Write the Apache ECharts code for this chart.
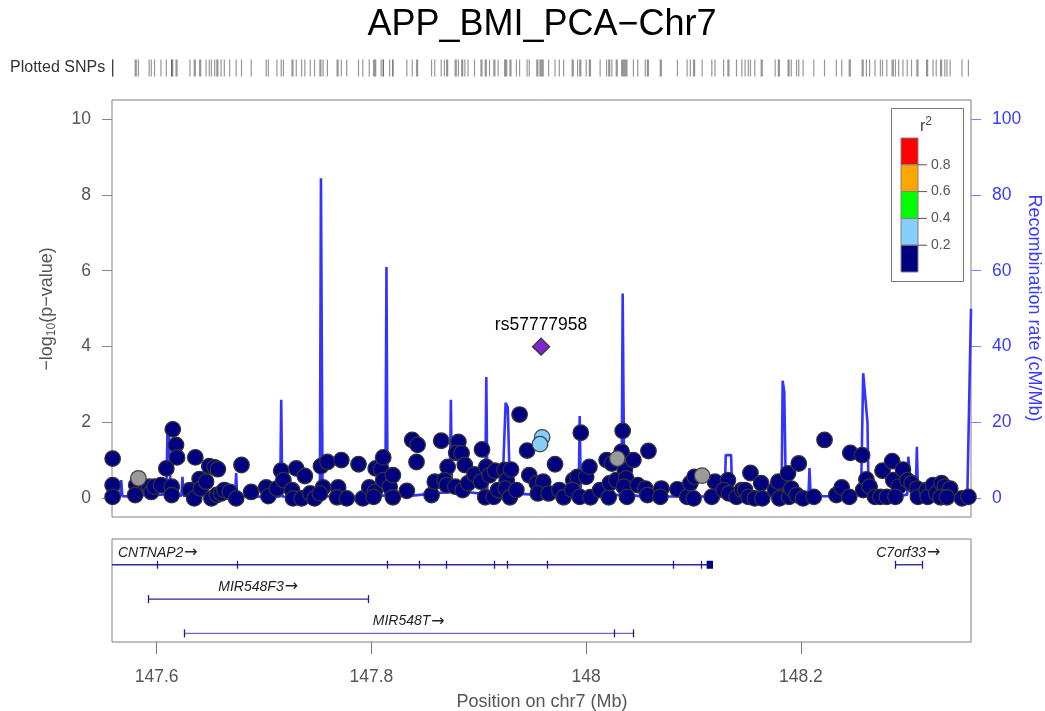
<!DOCTYPE html>
<html><head><meta charset="utf-8">
<script src="https://cdn.jsdelivr.net/npm/echarts@6/dist/echarts.min.js"></script>
<style>html,body{margin:0;padding:0;background:#fff}#c{width:1045px;height:711px}</style>
</head><body><div id="c"></div><script>
const FONT = '"Liberation Sans", Arial, Helvetica, sans-serif';
const chartTitle = 'APP_BMI_PCA\u2212Chr7';
const xMin = 147.5584, xMax = 148.3584;
const xTicks = [147.6, 147.8, 148.0, 148.2];
const pTicks = [0, 2, 4, 6, 8, 10];
const recTicks = [0, 20, 40, 60, 80, 100];

// SNPs: [position (Mb), -log10(p)]
const snpNavy = [
[147.559,1.05],[147.559,0.35],[147.559,0.04],
[147.581,0.35],[147.580,0.09],[147.593,0.31],[147.595,0.17],[147.598,0.31],[147.604,0.35],
[147.615,1.82],[147.618,1.41],[147.619,1.08],[147.609,0.79],[147.614,0.31],[147.614,0.09],
[147.631,0.22],[147.635,0.0],[147.636,1.08],[147.640,0.51],[147.641,0.26],[147.646,0.44],
[147.649,0.85],[147.654,0.82],[147.657,0.77],[147.651,0.0],[147.656,0.09],[147.660,0.13],
[147.663,0.22],[147.668,0.17],[147.674,0.0],[147.679,0.88],[147.688,0.17],[147.702,0.29],
[147.704,0.06],[147.712,0.26],[147.716,0.73],[147.718,0.48],[147.726,0.22],[147.730,0.79],
[147.727,0.0],[147.735,0.0],[147.738,0.59],[147.743,0.13],[147.747,0.0],[147.753,0.85],
[147.759,0.96],[147.755,0.29],[147.752,0.13],[147.769,0.29],[147.768,0.03],[147.772,1.01],
[147.777,0.0],[147.788,0.90],[147.792,0.0],[147.798,0.29],[147.803,0.17],[147.804,0.79],
[147.809,0.76],[147.811,1.08],[147.811,0.48],[147.817,0.31],[147.820,0.61],[147.820,0.03],[147.802,0.04],
[147.838,1.54],[147.843,1.41],[147.842,0.96],[147.833,0.20],[147.856,0.09],[147.859,0.44],
[147.865,1.52],[147.871,0.83],[147.868,0.48],[147.870,0.35],[147.878,0.31],[147.881,1.49],
[147.879,1.20],[147.884,1.19],[147.887,0.88],[147.885,0.22],[147.890,0.40],[147.896,0.63],
[147.903,1.29],[147.902,0.44],[147.907,0.83],[147.910,0.61],[147.915,0.73],[147.906,0.03],
[147.914,0.04],[147.918,0.22],[147.924,0.75],[147.926,0.48],[147.930,0.76],[147.925,0.26],
[147.929,0.03],[147.935,0.22],[147.938,2.21],[147.945,1.26],[147.947,0.61],[147.954,0.40],
[147.960,0.44],[147.971,0.90],[147.955,0.13],[147.965,0.13],[147.975,0.22],[147.979,0.03],
[147.988,0.48],[147.992,0.57],[147.995,1.73],[147.987,0.22],[147.994,0.04],[148.000,0.57],
[148.003,0.83],[148.004,0.03],[148.013,0.22],[148.019,1.01],[148.024,0.92],[148.033,1.23],
[148.034,1.78],[148.021,0.03],[148.022,0.40],[148.028,0.48],[148.036,0.75],[148.037,0.53],
[148.035,0.31],[148.038,0.04],[148.044,1.01],[148.048,0.35],[148.055,0.26],[148.058,1.25],
[148.057,0.09],[148.070,0.26],[148.069,0.04],[148.085,0.24],
[148.094,0.04],[148.097,0.40],[148.101,0.57],[148.100,0.0],[148.117,0.04],[148.120,0.44],
[148.132,0.48],[148.128,0.22],[148.133,0.13],[148.140,0.04],[148.145,0.22],[148.148,0.22],
[148.153,0.67],[148.151,0.04],[148.157,0.0],[148.163,0.40],[148.164,0.0],[148.176,0.22],
[148.179,0.44],[148.180,0.0],[148.188,0.66],[148.189,0.04],[148.191,0.26],[148.198,0.92],
[148.196,0.09],[148.202,0.0],[148.212,0.04],[148.222,1.54],[148.233,0.09],[148.238,0.29],
[148.246,1.20],[148.245,0.04],[148.257,1.14],[148.258,0.22],[148.261,0.50],[148.264,0.31],
[148.269,0.04],[148.276,0.73],[148.274,0.04],[148.280,0.04],[148.285,0.98],[148.286,0.48],
[148.291,0.31],[148.288,0.04],[148.295,0.76],[148.299,0.48],[148.303,0.40],[148.308,0.26],
[148.309,0.04],[148.317,0.22],[148.318,0.04],[148.323,0.35],[148.326,0.13],[148.331,0.40],
[148.334,0.31],[148.339,0.26],[148.330,0.03],[148.336,0.03],[148.350,0.0],[148.356,0.04]
];
const snpGray = [[147.583,0.53],[148.029,1.05],[148.108,0.60]];
const snpLightBlue = [[147.959,1.61],[147.957,1.43]];
const leadSnp = [[147.958,4.0]];
const leadName = 'rs57777958';

// Recombination rate: [position (Mb), cM/Mb]
const recomb = [
[147.5584,0.8],[147.562,0.5],[147.566,0.6],[147.567,4.8],[147.568,0.6],[147.575,0.5],[147.585,0.9],
[147.595,0.7],[147.604,1.0],[147.609,1.2],[147.610,17],[147.6115,16],[147.613,1.2],[147.618,0.8],
[147.623,0.7],[147.624,5.7],[147.625,0.7],[147.635,0.5],[147.645,0.9],[147.655,0.6],[147.661,0.7],
[147.662,4],[147.663,0.7],[147.673,0.6],[147.674,6.7],[147.675,0.6],[147.690,0.5],[147.705,0.4],
[147.715,0.5],[147.716,26],[147.717,0.5],[147.730,0.4],[147.745,0.4],[147.752,0.5],[147.753,84.4],
[147.7545,0.6],[147.765,0.5],[147.780,0.4],[147.795,0.5],[147.806,0.6],[147.813,0.8],[147.814,61],
[147.815,0.8],[147.825,0.6],[147.840,0.8],[147.855,1.2],[147.865,1.5],[147.873,1.6],[147.874,26],
[147.875,1.6],[147.885,1.8],[147.895,1.5],[147.903,1.2],[147.906,2],[147.907,32],[147.908,2],
[147.915,1.5],[147.922,2.5],[147.925,25.2],[147.927,24],[147.929,2],[147.940,1.2],[147.950,1.0],
[147.959,1.2],[147.960,6],[147.961,1.2],[147.975,1.0],[147.985,1.2],[147.993,1.5],[147.994,21.7],
[147.995,1.5],[148.010,1.0],[148.025,0.8],[148.033,1.0],[148.034,54],[148.0355,1.0],[148.050,0.6],
[148.065,0.5],[148.080,0.5],[148.095,0.6],[148.110,0.5],[148.120,0.6],[148.129,0.8],[148.130,11.4],
[148.135,11.4],[148.136,0.8],[148.150,0.6],[148.165,0.5],[148.175,0.6],[148.182,0.8],[148.183,31],
[148.1845,28],[148.186,0.8],[148.195,0.6],[148.207,0.8],[148.208,8],[148.209,0.8],[148.220,0.6],
[148.235,0.5],[148.248,0.8],[148.256,1],[148.258,33],[148.262,20],[148.263,1],[148.275,0.8],
[148.290,0.6],[148.299,1],[148.300,11],[148.303,1.5],[148.307,2],[148.308,13.6],[148.309,1],
[148.320,0.6],[148.335,0.5],[148.350,0.6],[148.355,1],[148.3584,50]
];

// Genes
const geneNames = ['CNTNAP2', 'MIR548F3', 'MIR548T', 'C7orf33'];
const geneStart = [145.8135, 147.5919, 147.6258, 148.2876];
const geneEnd   = [148.1181, 147.7972, 148.0438, 148.3125];
const geneRow   = [0, 1, 2, 0];
const geneExons = [
  [147.600,147.6745,147.8146,147.8441,147.869,147.914,147.926,147.9634,148.0805,148.1066],
  [147.5919,147.7972],
  [147.6258,148.0261,148.0438],
  [148.2876,148.3125]
];
const geneBlocks = [[[148.1122,148.1181]], [], [], []];

// r2 legend
const r2Colors = ['#FF0000', '#FFA500', '#00FF00', '#87CEFA', '#000080'];
const r2Labels = ['0.8', '0.6', '0.4', '0.2'];

const chart = echarts.init(document.getElementById('c'), null, {renderer: 'canvas'});

const G = [
  {left: 112, top: 59, width: 859, height: 18, show: false},
  {left: 112, top: 100, width: 859, height: 417, show: true, borderColor: '#808080', borderWidth: 1},
  {left: 112, top: 539, width: 859, height: 103, show: true, borderColor: '#808080', borderWidth: 1}
];

function renderGene(params, api) {
  const i = api.value(3);
  const cs = params.coordSys;
  const left = cs.x, right = cs.x + cs.width;
  const y = api.coord([xMin, api.value(2)])[1];
  const x0 = api.coord([api.value(0), 0])[0];
  const x1 = api.coord([api.value(1), 0])[0];
  const cx0 = Math.max(x0, left), cx1 = Math.min(x1, right);
  const navy = '#1c1c8c';
  const children = [];
  children.push({type: 'line', shape: {x1: cx0, y1: y, x2: cx1, y2: y},
    style: {stroke: i === 2 ? '#6a6ac0' : '#2a2a9a', lineWidth: 1.4}});
  geneExons[i].forEach(p => {
    const px = Math.round(api.coord([p, 0])[0]) + 0.5;
    if (px >= left && px <= right)
      children.push({type: 'line', shape: {x1: px, y1: y - 4, x2: px, y2: y + 4}, style: {stroke: navy, lineWidth: 1.3}});
  });
  geneBlocks[i].forEach(b => {
    const a = api.coord([b[0], 0])[0], c = api.coord([b[1], 0])[0];
    children.push({type: 'rect', shape: {x: a, y: y - 4, width: Math.max(c - a, 2), height: 8}, style: {fill: '#000080'}});
  });
  let tx, align;
  if (x0 < left) { tx = left + 6; align = 'left'; } else { tx = (x0 + x1) / 2; align = 'center'; }
  children.push({type: 'text', x: tx, y: y - 12,
    style: {text: '{n|' + geneNames[i] + '}{r|\u2192}', align: align, verticalAlign: 'middle',
      rich: {n: {font: 'italic 14px ' + FONT, fill: '#222'}, r: {font: '16px "DejaVu Sans", sans-serif', fill: '#222', padding: [0, 0, 0, 1]}}}});
  return {type: 'group', children: children};
}

const allSnps = snpNavy.concat(snpGray, snpLightBlue, leadSnp);

// legend graphics
const legendEls = [];
legendEls.push({type: 'rect', shape: {x: 891.5, y: 108.5, width: 72, height: 173}, style: {fill: '#fff', stroke: '#777', lineWidth: 1}});
const segTop = 138, segH = 26.8;
r2Colors.forEach((c, k) => {
  legendEls.push({type: 'rect', shape: {x: 901, y: segTop + k * segH, width: 17, height: segH},
    style: {fill: c, stroke: '#808080', lineWidth: 1}});
});
r2Labels.forEach((t, k) => {
  const yy = segTop + (k + 1) * segH;
  legendEls.push({type: 'line', shape: {x1: 918, y1: yy, x2: 927, y2: yy}, style: {stroke: '#555', lineWidth: 1}});
  legendEls.push({type: 'text', x: 931, y: yy, style: {text: t, font: '14px ' + FONT, fill: '#555', verticalAlign: 'middle', align: 'left'}});
});
legendEls.push({type: 'text', x: 926, y: 127, style: {text: '{a|r}{p|2}', align: 'center', verticalAlign: 'middle',
  rich: {a: {font: '16px ' + FONT, fill: '#444'}, p: {font: '12px ' + FONT, fill: '#444', padding: [0, 0, 10, 0]}}}});

const option = {
  backgroundColor: '#fff',
  animation: false,
  textStyle: {fontFamily: FONT},
  grid: G,
  xAxis: [
    {type: 'value', gridIndex: 0, min: xMin, max: xMax, show: false},
    {type: 'value', gridIndex: 1, min: xMin, max: xMax, show: false},
    {type: 'value', gridIndex: 2, min: xMin, max: xMax, position: 'bottom',
      axisLine: {show: false, onZero: false}, splitLine: {show: false},
      axisTick: {show: true, inside: false, length: 12, lineStyle: {color: '#777'}, customValues: xTicks},
      axisLabel: {customValues: xTicks, margin: 26, color: '#555', fontSize: 17.5, fontFamily: FONT,
        formatter: v => String(Math.round(v * 10) / 10)}}
  ],
  yAxis: [
    {type: 'value', gridIndex: 0, min: 0, max: 1, show: false},
    {type: 'value', gridIndex: 1, min: -0.49, max: 10.5, position: 'left',
      axisLine: {show: false, onZero: false}, splitLine: {show: false},
      axisTick: {show: true, length: 10, lineStyle: {color: '#888'}, customValues: pTicks},
      axisLabel: {customValues: pTicks, margin: 21, color: '#555', fontSize: 17.5, fontFamily: FONT}},
    {type: 'value', gridIndex: 1, min: -4.9, max: 105, position: 'right',
      axisLine: {show: false, onZero: false}, splitLine: {show: false},
      axisTick: {show: true, length: 10, lineStyle: {color: '#7a7aff'}, customValues: recTicks},
      axisLabel: {customValues: recTicks, margin: 21, color: '#3a3aff', fontSize: 17.5, fontFamily: FONT}},
    {type: 'value', gridIndex: 2, min: -0.75, max: 2.25, inverse: true, show: false}
  ],
  series: [
    {type: 'scatter', xAxisIndex: 0, yAxisIndex: 0, data: allSnps.map(d => [d[0], 0.5]),
      symbol: 'rect', symbolSize: [1.2, 17], itemStyle: {color: 'rgba(20,20,20,0.55)'}, silent: true},
    {type: 'line', xAxisIndex: 1, yAxisIndex: 2, data: recomb, showSymbol: false, z: 1,
      lineStyle: {color: '#3434ff', width: 2.6}, silent: true},
    {type: 'scatter', xAxisIndex: 1, yAxisIndex: 1, data: snpNavy, symbolSize: 15.5, z: 3,
      itemStyle: {color: '#000080', borderColor: '#333', borderWidth: 1.3, opacity: 1}},
    {type: 'scatter', xAxisIndex: 1, yAxisIndex: 1, data: snpGray, symbolSize: 15.5, z: 3,
      itemStyle: {color: '#9a9a9a', borderColor: '#444', borderWidth: 1.3, opacity: 1}},
    {type: 'scatter', xAxisIndex: 1, yAxisIndex: 1, data: snpLightBlue, symbolSize: 15.5, z: 4,
      itemStyle: {color: '#87CEFA', borderColor: '#444', borderWidth: 1.3, opacity: 1}},
    {type: 'scatter', xAxisIndex: 1, yAxisIndex: 1, data: leadSnp, symbol: 'diamond', symbolSize: 17, z: 5,
      itemStyle: {color: '#7D26CD', borderColor: '#333', borderWidth: 1.3, opacity: 1},
      label: {show: true, position: 'top', distance: 3, formatter: leadName, color: '#000', fontSize: 17.5, fontFamily: FONT}},
    {type: 'custom', xAxisIndex: 2, yAxisIndex: 3, renderItem: renderGene,
      data: geneNames.map((n, i) => [geneStart[i], geneEnd[i], geneRow[i], i]), encode: {x: [0, 1], y: 2}, silent: true}
  ],
  graphic: [
    {type: 'text', x: 542, y: 25, style: {text: chartTitle, font: '36px ' + FONT, fill: '#000', align: 'center', verticalAlign: 'middle'}},
    {type: 'text', x: 10, y: 68, style: {text: 'Plotted SNPs', font: '16px ' + FONT, fill: '#333', align: 'left', verticalAlign: 'middle'}},
    {type: 'text', x: 47, y: 309, rotation: Math.PI / 2, style: {text: '{a|\u2212log}{s|10}{a|(p\u2212value)}', align: 'center', verticalAlign: 'middle',
      rich: {a: {font: '18px ' + FONT, fill: '#555'}, s: {font: '12px ' + FONT, fill: '#555', padding: [9, 0, 0, 0]}}}},
    {type: 'text', x: 1034, y: 308, rotation: -Math.PI / 2, style: {text: 'Recombination rate (cM/Mb)', font: '18px ' + FONT, fill: '#3a3aff', align: 'center', verticalAlign: 'middle'}},
    {type: 'text', x: 542, y: 702, style: {text: 'Position on chr7 (Mb)', font: '18px ' + FONT, fill: '#555', align: 'center', verticalAlign: 'middle'}},
    {type: 'group', children: legendEls}
  ]
};
chart.setOption(option);
</script></body></html>
